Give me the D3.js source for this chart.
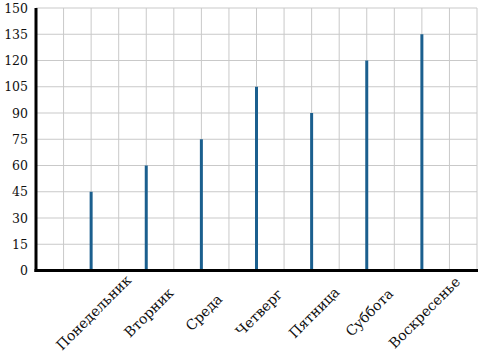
<!DOCTYPE html>
<html>
<head>
<meta charset="utf-8">
<script src="https://cdn.jsdelivr.net/npm/d3@7"></script>
<style>
    body { margin: 0; background: #fff; }
    svg text { font-family: "DejaVu Serif", serif; fill: #111; }
</style>
</head>
<body>
<svg id="chart" width="500" height="360"></svg>
<script>
(() => {

    // chart data
    const days = ['Понедельник', 'Вторник', 'Среда', 'Четверг', 'Пятница', 'Суббота', 'Воскресенье'];
    const values = [45, 60, 75, 105, 90, 120, 135];
    const y_ticks = [0, 15, 30, 45, 60, 75, 90, 105, 120, 135, 150];

    // chart parameters
    const left = 36;
    const right = 477;
    const top = 8;
    const bottom = 270.5;
    const bar_color = '#1b5f8e';
    const grid_color = '#c9c9c9';

    let svg = d3.select('#chart');

    // scales
    let x_scale = d3.scalePoint()
        .domain(days)
        .range([left, right])
        .padding(1);

    let y_scale = d3.scaleLinear()
        .domain([0, 150])
        .range([bottom, top]);

    // grid columns are half a category step wide
    let half_step = x_scale.step() / 2;
    let grid_x = d3.range(0, Math.round((right - left) / half_step) + 1)
        .map((i) => left + i * half_step);

    svg.append('g')
        .selectAll('line')
        .data(grid_x)
        .enter()
        .append('line')
        .attr('x1', (d) => d)
        .attr('x2', (d) => d)
        .attr('y1', top)
        .attr('y2', bottom)
        .style('stroke', grid_color)
        .style('stroke-width', 1);

    svg.append('g')
        .selectAll('line')
        .data(y_ticks)
        .enter()
        .append('line')
        .attr('x1', left)
        .attr('x2', right)
        .attr('y1', (d) => y_scale(d))
        .attr('y2', (d) => y_scale(d))
        .style('stroke', grid_color)
        .style('stroke-width', 1);

    // bars
    svg.append('g')
        .selectAll('line')
        .data(values)
        .enter()
        .append('line')
        .attr('x1', (d, i) => x_scale(days[i]))
        .attr('x2', (d, i) => x_scale(days[i]))
        .attr('y1', y_scale(0))
        .attr('y2', (d) => y_scale(d))
        .style('stroke', bar_color)
        .style('stroke-width', 3);

    // Y axis
    let y_axis = d3.axisLeft(y_scale)
        .tickValues(y_ticks)
        .tickSize(0)
        .tickPadding(8);

    let y_g = svg.append('g')
        .attr('transform', `translate(${left}, 0)`)
        .call(y_axis);
    y_g.select('.domain').remove();
    y_g.selectAll('text')
        .style('font-size', '12.5px')
        .style('font-family', '"DejaVu Serif", serif');

    // X axis labels, rotated
    let x_axis = d3.axisBottom(x_scale)
        .tickSize(0)
        .tickPadding(0);

    let x_g = svg.append('g')
        .attr('transform', `translate(0, ${bottom})`)
        .call(x_axis);
    x_g.select('.domain').remove();
    x_g.selectAll('text')
        .attr('y', 0)
        .attr('dy', '0.35em')
        .attr('transform', 'translate(2, 42) rotate(-45)')
        .style('text-anchor', 'middle')
        .style('font-size', '14px')
        .style('font-family', '"DejaVu Serif", serif');

    // thick axis lines
    svg.append('line')
        .attr('x1', left)
        .attr('x2', left)
        .attr('y1', top)
        .attr('y2', bottom + 1.5)
        .style('stroke', '#000')
        .style('stroke-width', 3);

    svg.append('line')
        .attr('x1', left - 1.5)
        .attr('x2', right + 1)
        .attr('y1', bottom)
        .attr('y2', bottom)
        .style('stroke', '#000')
        .style('stroke-width', 3);

})();
</script>
</body>
</html>
